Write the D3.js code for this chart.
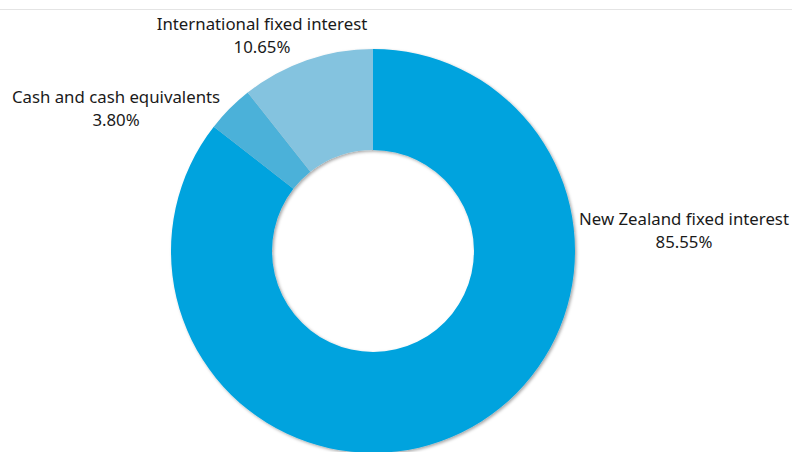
<!DOCTYPE html>
<html>
<head>
<meta charset="utf-8">
<script src="https://cdn.jsdelivr.net/npm/d3@7"></script>
<style>
  body { margin: 0; background: #fff; }
  #chart { display: block; }
  .lbl { font-family: "Noto Sans", "Open Sans", sans-serif; font-size: 16.8px; fill: #1a1a1a; }
</style>
</head>
<body>
<svg id="chart" width="792" height="452"></svg>
<script>
(function(){

  // data, clockwise from 12 o'clock
  const categories = ["New Zealand fixed interest", "Cash and cash equivalents", "International fixed interest"];
  const shares = [85.55, 3.80, 10.65];
  const pctLabels = ["85.55%", "3.80%", "10.65%"];

  const colours = d3.scaleOrdinal()
    .domain(categories)
    .range(["#00a3de", "#4bb1d9", "#84c3df"]);

  // where each label block is centred, relative to the donut centre
  const labelOffsets = [[311, -23], [-257, -145], [-111, -218]];

  const width = 792, height = 452;
  const cx = 373, cy = 251;
  const outerR = 202, innerR = 101;

  const svg = d3.select("#chart");

  // thin rule at the very top
  svg.append("line")
    .attr("x1", 0).attr("x2", width)
    .attr("y1", 9.5).attr("y2", 9.5)
    .attr("stroke", "#e4e4e4")
    .attr("stroke-width", 1);

  const defs = svg.append("defs");
  const f = defs.append("filter").attr("id", "shadow")
    .attr("x", "-10%").attr("y", "-10%").attr("width", "120%").attr("height", "120%");
  f.append("feDropShadow")
    .attr("dx", 1.5).attr("dy", 1.5)
    .attr("stdDeviation", 1.8)
    .attr("flood-color", "#000")
    .attr("flood-opacity", 0.35);

  const data = categories.map((c, i) => ({name: c, value: shares[i], pct: pctLabels[i]}));

  const pie = d3.pie()
    .value(d => d.value)
    .sort(null);

  const arc = d3.arc()
    .innerRadius(innerR)
    .outerRadius(outerR);

  const g = svg.append("g")
    .attr("transform", "translate(" + cx + "," + cy + ")");

  g.append("g")
    .attr("filter", "url(#shadow)")
    .selectAll("path")
    .data(pie(data))
    .enter()
      .append("path")
      .attr("d", arc)
      .attr("fill", d => colours(d.data.name));

  const labels = g.selectAll("text.lbl")
    .data(data)
    .enter()
      .append("text")
      .attr("class", "lbl")
      .attr("text-anchor", "middle")
      .attr("transform", (d, i) => "translate(" + labelOffsets[i][0] + "," + labelOffsets[i][1] + ")");

  labels.append("tspan")
    .attr("x", 0).attr("dy", "-0.15em")
    .text(d => d.name);

  labels.append("tspan")
    .attr("x", 0).attr("dy", 23)
    .text(d => d.pct);

})();
</script>
</body>
</html>
